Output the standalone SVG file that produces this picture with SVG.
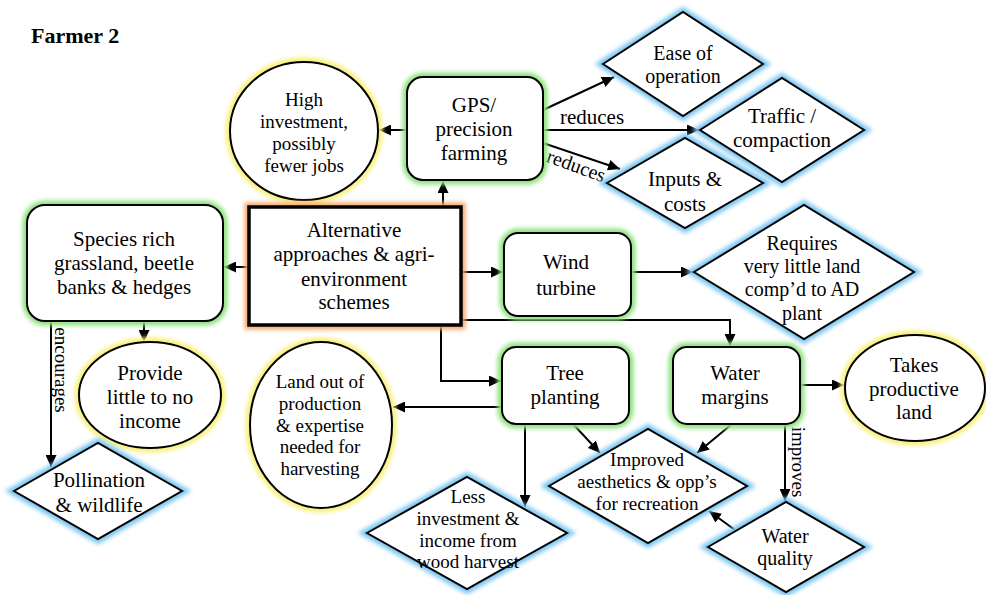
<svg xmlns="http://www.w3.org/2000/svg" width="986" height="595" viewBox="0 0 986 595">
<style>
text{font-family:'Liberation Serif',Tinos,'Times New Roman','DejaVu Serif',serif;fill:#000;text-anchor:middle}
.t21{font-size:21px}.t20{font-size:20px}.t19{font-size:19px}
.shape{fill:#fff;stroke:#000;stroke-width:2}
.glow{fill:none;stroke-width:9;filter:url(#blur)}
.g{stroke:#8fe27f}.y{stroke:#f7f07a}.b{stroke:#7cc6f2}.o{stroke:#f6a56a}
.c{fill:none;stroke:#000;stroke-width:2;marker-end:url(#arr)}
</style>
<defs>
<filter id="blur" x="-20%" y="-20%" width="140%" height="140%"><feGaussianBlur stdDeviation="2.2"/></filter>
<marker id="arr" markerUnits="userSpaceOnUse" markerWidth="13" markerHeight="11" refX="12" refY="5.5" orient="auto"><path d="M0,0 L12,5.5 L0,11 z" fill="#000"/></marker>
</defs>
<rect width="986" height="595" fill="#fff"/>
<text x="31" y="43" font-family="Liberation Serif, serif" style="font-size:22px;font-weight:bold;text-anchor:start">Farmer 2</text>

<g id="connectors">
<path class="c" d="M443,207 V181"/>
<path class="c" d="M407,130 H379"/>
<path class="c" d="M543,110 L614,77"/>
<path class="c" d="M543,130 H699"/>
<path class="c" d="M543,143 L620,169"/>
<path class="c" d="M249,267 H224"/>
<path class="c" d="M144,321 V342"/>
<path class="c" d="M51,321 V467"/>
<path class="c" d="M461,272 H503"/>
<path class="c" d="M631,272 H693"/>
<path class="c" d="M461,320 H730 V346"/>
<path class="c" d="M441,325 V381 H501"/>
<path class="c" d="M502,407 H393"/>
<path class="c" d="M525,424 V507"/>
<path class="c" d="M573,424 L600,453"/>
<path class="c" d="M732,424 L697,453"/>
<path class="c" d="M800,385 H844"/>
<path class="c" d="M785,424 V501"/>
<path class="c" d="M735,530 L709,511"/>
<text class="t21" x="592" y="124">reduces</text>
<text class="t20" x="574" y="172" transform="rotate(20 574 172)">reduces</text>
<text class="t19" x="55" y="370" transform="rotate(90 55 370)">encourages</text>
<text class="t19" x="792" y="462" transform="rotate(90 792 462)">improves</text>
</g>

<g id="high">
<ellipse class="glow y" cx="304" cy="131" rx="74" ry="69"/>
<ellipse class="shape" cx="304" cy="131" rx="74" ry="69"/>
<text class="t19" x="304" y="106">High</text>
<text class="t19" x="304" y="128">investment,</text>
<text class="t19" x="304" y="150">possibly</text>
<text class="t19" x="304" y="172">fewer jobs</text>
</g>

<g id="gps">
<rect class="glow g" x="407" y="77" width="136" height="103" rx="16"/>
<rect class="shape" x="407" y="77" width="136" height="103" rx="16"/>
<text class="t21" x="474" y="112">GPS/</text>
<text class="t21" x="474" y="136">precision</text>
<text class="t21" x="474" y="160">farming</text>
</g>

<g id="ease">
<polygon class="glow b" points="603,64 683,12 763,64 683,116"/>
<polygon class="shape" points="603,64 683,12 763,64 683,116"/>
<text class="t20" x="683" y="60">Ease of</text>
<text class="t20" x="683" y="83">operation</text>
</g>

<g id="traffic">
<polygon class="glow b" points="700,130 782,78 864,130 782,182"/>
<polygon class="shape" points="700,130 782,78 864,130 782,182"/>
<text class="t21" x="782" y="123">Traffic /</text>
<text class="t21" x="782" y="147">compaction</text>
</g>

<g id="inputs">
<polygon class="glow b" points="607,183 685,138 763,183 685,228"/>
<polygon class="shape" points="607,183 685,138 763,183 685,228"/>
<text class="t21" x="685" y="186">Inputs &amp;</text>
<text class="t21" x="685" y="211">costs</text>
</g>

<g id="alternative">
<rect class="glow o" x="249" y="207" width="212" height="118"/>
<rect class="shape" x="249" y="207" width="212" height="118" style="stroke-width:3.5"/>
<text class="t21" x="354" y="237">Alternative</text>
<text class="t21" x="354" y="261">approaches &amp; agri-</text>
<text class="t21" x="354" y="286">environment</text>
<text class="t21" x="354" y="309">schemes</text>
</g>

<g id="species">
<rect class="glow g" x="27" y="205" width="196" height="116" rx="18"/>
<rect class="shape" x="27" y="205" width="196" height="116" rx="18"/>
<text class="t21" x="124" y="246">Species rich</text>
<text class="t21" x="124" y="270">grassland, beetle</text>
<text class="t21" x="124" y="294">banks &amp; hedges</text>
</g>

<g id="wind">
<rect class="glow g" x="504" y="233" width="127" height="83" rx="14"/>
<rect class="shape" x="504" y="233" width="127" height="83" rx="14"/>
<text class="t21" x="566" y="269">Wind</text>
<text class="t21" x="566" y="295">turbine</text>
</g>

<g id="requires">
<polygon class="glow b" points="694,272 804,205 914,272 804,339"/>
<polygon class="shape" points="694,272 804,205 914,272 804,339"/>
<text class="t20" x="802" y="250">Requires</text>
<text class="t20" x="802" y="273">very little land</text>
<text class="t20" x="802" y="296">comp’d to AD</text>
<text class="t20" x="802" y="320">plant</text>
</g>

<g id="provide">
<ellipse class="glow y" cx="150" cy="395" rx="71" ry="53"/>
<ellipse class="shape" cx="150" cy="395" rx="71" ry="53"/>
<text class="t21" x="150" y="380">Provide</text>
<text class="t21" x="150" y="404">little to no</text>
<text class="t21" x="150" y="428">income</text>
</g>

<g id="pollination">
<polygon class="glow b" points="14,491 98,443 182,491 98,539"/>
<polygon class="shape" points="14,491 98,443 182,491 98,539"/>
<text class="t21" x="99" y="487">Pollination</text>
<text class="t21" x="99" y="512">&amp; wildlife</text>
</g>

<g id="land">
<ellipse class="glow y" cx="321" cy="425" rx="71" ry="83"/>
<ellipse class="shape" cx="321" cy="425" rx="71" ry="83"/>
<text class="t19" x="320" y="388">Land out of</text>
<text class="t19" x="320" y="410">production</text>
<text class="t19" x="320" y="432">&amp; expertise</text>
<text class="t19" x="320" y="453">needed for</text>
<text class="t19" x="320" y="475">harvesting</text>
</g>

<g id="tree">
<rect class="glow g" x="502" y="347" width="127" height="77" rx="14"/>
<rect class="shape" x="502" y="347" width="127" height="77" rx="14"/>
<text class="t21" x="565" y="380">Tree</text>
<text class="t21" x="565" y="404">planting</text>
</g>

<g id="water">
<rect class="glow g" x="673" y="347" width="127" height="77" rx="14"/>
<rect class="shape" x="673" y="347" width="127" height="77" rx="14"/>
<text class="t21" x="735" y="380">Water</text>
<text class="t21" x="735" y="404">margins</text>
</g>

<g id="takes">
<ellipse class="glow y" cx="915" cy="388" rx="70" ry="53"/>
<ellipse class="shape" cx="915" cy="388" rx="70" ry="53"/>
<text class="t21" x="914" y="372">Takes</text>
<text class="t21" x="914" y="396">productive</text>
<text class="t21" x="914" y="419">land</text>
</g>

<g id="less">
<polygon class="glow b" points="367,533 467,477 567,533 467,589"/>
<polygon class="shape" points="367,533 467,477 567,533 467,589"/>
<text class="t19" x="468" y="503">Less</text>
<text class="t19" x="468" y="525">investment &amp;</text>
<text class="t19" x="468" y="547">income from</text>
<text class="t19" x="468" y="568">wood harvest</text>
</g>

<g id="improved">
<polygon class="glow b" points="549,486 648,429 747,486 648,543"/>
<polygon class="shape" points="549,486 648,429 747,486 648,543"/>
<text class="t19" x="647" y="466">Improved</text>
<text class="t19" x="647" y="488">aesthetics &amp; opp’s</text>
<text class="t19" x="647" y="510">for recreation</text>
</g>

<g id="quality">
<polygon class="glow b" points="708,547 786,502 864,547 786,592"/>
<polygon class="shape" points="708,547 786,502 864,547 786,592"/>
<text class="t20" x="785" y="543">Water</text>
<text class="t20" x="785" y="565">quality</text>
</g>
</svg>
